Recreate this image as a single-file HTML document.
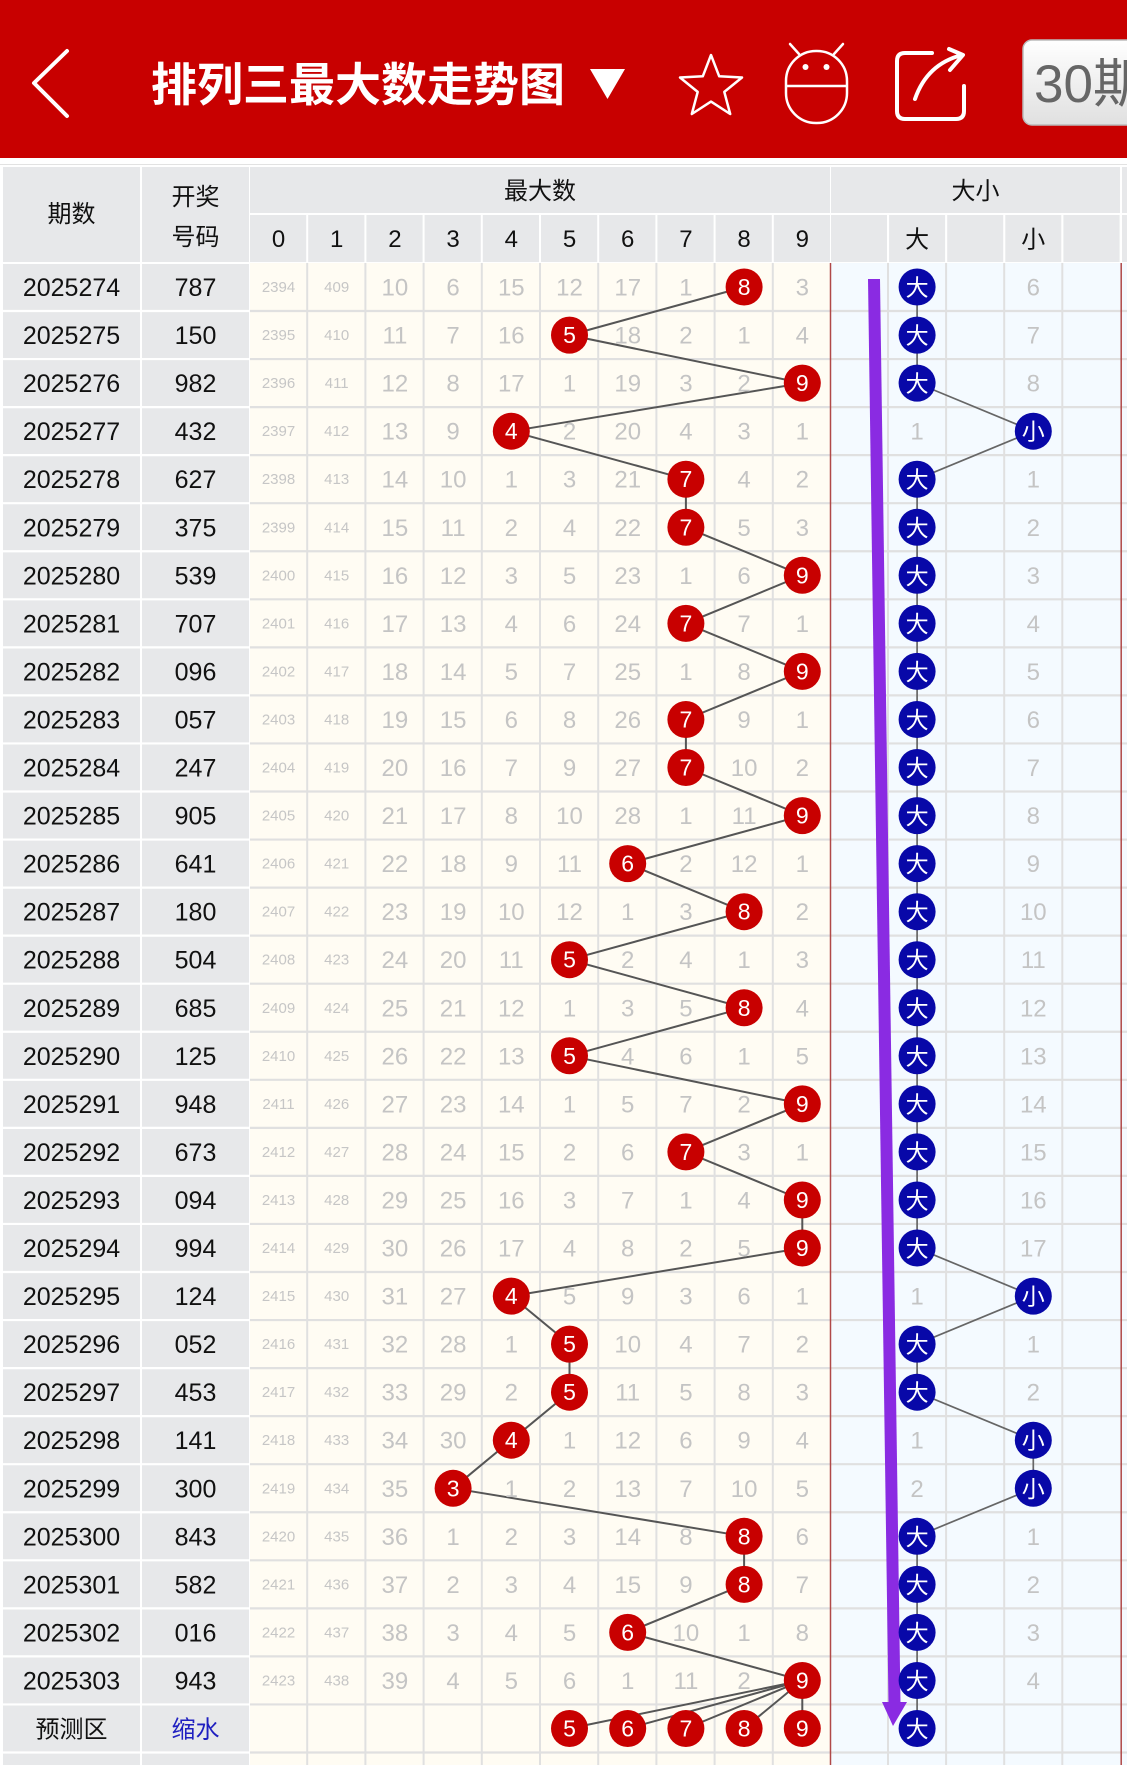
<!DOCTYPE html>
<html><head><meta charset="utf-8"><style>
html,body{margin:0;padding:0;background:#fff;}
svg{display:block;}
svg text{font-family:"Liberation Sans","Noto Sans CJK SC",sans-serif;text-anchor:middle;}
.p{font-size:25px;fill:#111}
.h{font-size:24px;fill:#111}
.s{font-size:15px;fill:#c6c6c6}
.g{font-size:24px;fill:#c4c4c4}
.w{font-size:23px;fill:#fff}
.wc{font-size:23px;fill:#fff}
.rc{fill:#c80000}
.bc{fill:#0808a8}
</style></head><body>
<svg width="1127" height="1765" viewBox="0 0 1127 1765" xmlns="http://www.w3.org/2000/svg">
<defs><linearGradient id="btn" x1="0" y1="0" x2="0" y2="1"><stop offset="0" stop-color="#ffffff"/><stop offset="1" stop-color="#e0e0e0"/></linearGradient></defs>
<rect x="0" y="0" width="1127" height="1765" fill="#fff"/>
<!-- title bar -->
<rect x="0" y="0" width="1127" height="158" fill="#c80000"/>
<polyline points="67,51 34,83 67,116" fill="none" stroke="#fff" stroke-width="4" stroke-linejoin="round" stroke-linecap="round"/>
<text x="151" y="101" style="font-family:'Noto Sans CJK SC','WenQuanYi Zen Hei',sans-serif;font-size:46px;font-weight:bold;fill:#fff;text-anchor:start">排列三最大数走势图</text>
<polygon points="590,69 625,69 607.5,99" fill="#fff"/>
<polygon points="711,55 719.2,76.3 742,77.5 724.3,91.9 730.2,114 711,101.6 691.8,114 697.7,91.9 680,77.5 702.8,76.3" fill="none" stroke="#fff" stroke-width="2.5" stroke-linejoin="round"/>
<rect x="786" y="51" width="61" height="72" rx="30" fill="none" stroke="#fff" stroke-width="2.5"/>
<line x1="786" y1="86" x2="847" y2="86" stroke="#fff" stroke-width="2.5"/>
<circle cx="805.5" cy="67" r="3" fill="#fff"/><circle cx="826.5" cy="67" r="3" fill="#fff"/>
<line x1="790" y1="44" x2="799" y2="54" stroke="#fff" stroke-width="2.5" stroke-linecap="round"/>
<line x1="843" y1="44" x2="834" y2="54" stroke="#fff" stroke-width="2.5" stroke-linecap="round"/>
<path d="M932 53 H905 Q897 53 897 61 V111 Q897 119 905 119 H956 Q964 119 964 111 V86" fill="none" stroke="#fff" stroke-width="4" stroke-linecap="round"/>
<path d="M915 99 Q927 64 962 55" fill="none" stroke="#fff" stroke-width="4" stroke-linecap="round"/>
<path d="M949 49 L963 55 L950 70" fill="none" stroke="#fff" stroke-width="4" stroke-linecap="round" stroke-linejoin="round"/>
<rect x="1023" y="40" width="140" height="85" rx="9" fill="url(#btn)" stroke="#bbb" stroke-width="1.5"/>
<text x="1034" y="102" style="font-size:53px;fill:#666;text-anchor:start">30期</text>

<!-- table header -->
<rect x="0" y="164" width="1127" height="1" fill="#e2e2e2"/>
<g fill="#e7e8ea">
<rect x="3" y="167" width="137" height="95"/>
<rect x="142" y="167" width="107" height="95"/>
<rect x="250" y="167" width="580" height="46"/>
<rect x="831" y="167" width="289" height="46"/>
<rect x="1122" y="167" width="10" height="46"/>
<rect x="250" y="215" width="56.2" height="47"/>
<rect x="308.2" y="215" width="56.2" height="47"/>
<rect x="366.4" y="215" width="56.2" height="47"/>
<rect x="424.6" y="215" width="56.2" height="47"/>
<rect x="482.8" y="215" width="56.2" height="47"/>
<rect x="541" y="215" width="56.2" height="47"/>
<rect x="599.2" y="215" width="56.2" height="47"/>
<rect x="657.4" y="215" width="56.2" height="47"/>
<rect x="715.6" y="215" width="56.2" height="47"/>
<rect x="773.8" y="215" width="56.2" height="47"/>
<rect x="831" y="215" width="56" height="47"/>
<rect x="889.1" y="215" width="56" height="47"/>
<rect x="947.2" y="215" width="56" height="47"/>
<rect x="1005.3" y="215" width="56" height="47"/>
<rect x="1063.4" y="215" width="56.2" height="47"/>
<rect x="1122" y="215" width="10" height="47"/>
</g>
<text x="71.5" y="222" class="h">期数</text>
<text x="195.5" y="205" class="h">开奖</text>
<text x="195.5" y="245" class="h">号码</text>
<text x="540" y="199" class="h">最大数</text>
<text x="975.5" y="199" class="h">大小</text>
<g class="h">
<text x="278.5" y="247" class="h">0</text>
<text x="336.7" y="247" class="h">1</text>
<text x="394.9" y="247" class="h">2</text>
<text x="453.1" y="247" class="h">3</text>
<text x="511.3" y="247" class="h">4</text>
<text x="569.5" y="247" class="h">5</text>
<text x="627.7" y="247" class="h">6</text>
<text x="685.9" y="247" class="h">7</text>
<text x="744.1" y="247" class="h">8</text>
<text x="802.3" y="247" class="h">9</text>
<text x="917.1" y="247.5" class="h">大</text>
<text x="1033.3" y="247.5" class="h">小</text>
</g>

<!-- data backgrounds -->
<rect x="3" y="264" width="137" height="1501" fill="#e7e8ea"/>
<rect x="142" y="264" width="107" height="1501" fill="#e7e8ea"/>
<rect x="250" y="263" width="580" height="1502" fill="#fffcf3"/>
<rect x="831" y="263" width="296" height="1502" fill="#f4faff"/>
<!-- horizontal gaps -->
<path d="M0 311H250 M0 359.05H250 M0 407.1H250 M0 455.15H250 M0 503.2H250 M0 551.25H250 M0 599.3H250 M0 647.35H250 M0 695.4H250 M0 743.45H250 M0 791.5H250 M0 839.55H250 M0 887.6H250 M0 935.65H250 M0 983.7H250 M0 1031.75H250 M0 1079.8H250 M0 1127.85H250 M0 1175.9H250 M0 1223.95H250 M0 1272H250 M0 1320.05H250 M0 1368.1H250 M0 1416.15H250 M0 1464.2H250 M0 1512.25H250 M0 1560.3H250 M0 1608.35H250 M0 1656.4H250 M0 1704.45H250 M0 1752.5H250" stroke="#fff" stroke-width="2.2"/>
<path d="M250 311H1127 M250 359.05H1127 M250 407.1H1127 M250 455.15H1127 M250 503.2H1127 M250 551.25H1127 M250 599.3H1127 M250 647.35H1127 M250 695.4H1127 M250 743.45H1127 M250 791.5H1127 M250 839.55H1127 M250 887.6H1127 M250 935.65H1127 M250 983.7H1127 M250 1031.75H1127 M250 1079.8H1127 M250 1127.85H1127 M250 1175.9H1127 M250 1223.95H1127 M250 1272H1127 M250 1320.05H1127 M250 1368.1H1127 M250 1416.15H1127 M250 1464.2H1127 M250 1512.25H1127 M250 1560.3H1127 M250 1608.35H1127 M250 1656.4H1127 M250 1704.45H1127 M250 1752.5H1127" stroke="#e0e0e0" stroke-width="2.2"/>
<!-- vertical gaps -->
<path d="M307.2 263V1765 M365.4 263V1765 M423.6 263V1765 M481.8 263V1765 M540 263V1765 M598.2 263V1765 M656.4 263V1765 M714.6 263V1765 M772.8 263V1765 M888 263V1765 M946.1 263V1765 M1004.2 263V1765 M1062.3 263V1765" stroke="#e0e0e0" stroke-width="2"/>
<path d="M830.5 263V1765 M1121.2 263V1765" stroke="#b04848" stroke-width="1.5"/>

<!-- connecting lines -->
<polyline points="744.1,287 569.5,335.1 802.3,383.1 511.3,431.2 685.9,479.2 685.9,527.3 802.3,575.3 685.9,623.4 802.3,671.4 685.9,719.5 685.9,767.5 802.3,815.6 627.7,863.6 744.1,911.7 569.5,959.7 744.1,1007.8 569.5,1055.8 802.3,1103.9 685.9,1151.9 802.3,1200 802.3,1248 511.3,1296.1 569.5,1344.1 569.5,1392.2 511.3,1440.2 453.1,1488.3 744.1,1536.3 744.1,1584.4 627.7,1632.4 802.3,1680.5" fill="none" stroke="#555" stroke-width="2"/>
<path d="M802.3 1680.5L569.5 1728.5M802.3 1680.5L627.7 1728.5M802.3 1680.5L685.9 1728.5M802.3 1680.5L744.1 1728.5M802.3 1680.5V1728.5" fill="none" stroke="#555" stroke-width="2"/>
<polyline points="917.1,287 917.1,383.1 1033.3,431.2 917.1,479.2 917.1,1248 1033.3,1296.1 917.1,1344.1 917.1,1392.2 1033.3,1440.2 1033.3,1488.3 917.1,1536.3 917.1,1728.5" fill="none" stroke="#666" stroke-width="1.7"/>

<!-- purple arrow -->
<polygon points="868,279 880,279 900.5,1704 888.5,1704" fill="#8a2be2"/>
<polygon points="882,1702 907,1702 893,1726" fill="#8a2be2"/>

<!-- rows -->
<g transform="translate(0,287)">
<text x="71.5" y="9" class="p">2025274</text><text x="195.5" y="9" class="p">787</text>
<text x="278.5" y="5" class="s">2394</text><text x="336.7" y="5" class="s">409</text>
<text x="394.9" y="8.5" class="g">10</text><text x="453.1" y="8.5" class="g">6</text><text x="511.3" y="8.5" class="g">15</text><text x="569.5" y="8.5" class="g">12</text><text x="627.7" y="8.5" class="g">17</text><text x="685.9" y="8.5" class="g">1</text>
<circle cx="744.1" r="18.5" class="rc"/><text x="744.1" y="8" class="w">8</text>
<text x="802.3" y="8.5" class="g">3</text>
<circle cx="917.1" r="18.5" class="bc"/><text x="917.1" y="8.5" class="wc">大</text><text x="1033.3" y="8.5" class="g">6</text>
</g>
<g transform="translate(0,335.1)">
<text x="71.5" y="9" class="p">2025275</text><text x="195.5" y="9" class="p">150</text>
<text x="278.5" y="5" class="s">2395</text><text x="336.7" y="5" class="s">410</text>
<text x="394.9" y="8.5" class="g">11</text><text x="453.1" y="8.5" class="g">7</text><text x="511.3" y="8.5" class="g">16</text>
<circle cx="569.5" r="18.5" class="rc"/><text x="569.5" y="8" class="w">5</text>
<text x="627.7" y="8.5" class="g">18</text><text x="685.9" y="8.5" class="g">2</text><text x="744.1" y="8.5" class="g">1</text><text x="802.3" y="8.5" class="g">4</text>
<circle cx="917.1" r="18.5" class="bc"/><text x="917.1" y="8.5" class="wc">大</text><text x="1033.3" y="8.5" class="g">7</text>
</g>
<g transform="translate(0,383.1)">
<text x="71.5" y="9" class="p">2025276</text><text x="195.5" y="9" class="p">982</text>
<text x="278.5" y="5" class="s">2396</text><text x="336.7" y="5" class="s">411</text>
<text x="394.9" y="8.5" class="g">12</text><text x="453.1" y="8.5" class="g">8</text><text x="511.3" y="8.5" class="g">17</text><text x="569.5" y="8.5" class="g">1</text><text x="627.7" y="8.5" class="g">19</text><text x="685.9" y="8.5" class="g">3</text><text x="744.1" y="8.5" class="g">2</text>
<circle cx="802.3" r="18.5" class="rc"/><text x="802.3" y="8" class="w">9</text>
<circle cx="917.1" r="18.5" class="bc"/><text x="917.1" y="8.5" class="wc">大</text><text x="1033.3" y="8.5" class="g">8</text>
</g>
<g transform="translate(0,431.2)">
<text x="71.5" y="9" class="p">2025277</text><text x="195.5" y="9" class="p">432</text>
<text x="278.5" y="5" class="s">2397</text><text x="336.7" y="5" class="s">412</text>
<text x="394.9" y="8.5" class="g">13</text><text x="453.1" y="8.5" class="g">9</text>
<circle cx="511.3" r="18.5" class="rc"/><text x="511.3" y="8" class="w">4</text>
<text x="569.5" y="8.5" class="g">2</text><text x="627.7" y="8.5" class="g">20</text><text x="685.9" y="8.5" class="g">4</text><text x="744.1" y="8.5" class="g">3</text><text x="802.3" y="8.5" class="g">1</text>
<text x="917.1" y="8.5" class="g">1</text><circle cx="1033.3" r="18.5" class="bc"/><text x="1033.3" y="8.5" class="wc">小</text>
</g>
<g transform="translate(0,479.2)">
<text x="71.5" y="9" class="p">2025278</text><text x="195.5" y="9" class="p">627</text>
<text x="278.5" y="5" class="s">2398</text><text x="336.7" y="5" class="s">413</text>
<text x="394.9" y="8.5" class="g">14</text><text x="453.1" y="8.5" class="g">10</text><text x="511.3" y="8.5" class="g">1</text><text x="569.5" y="8.5" class="g">3</text><text x="627.7" y="8.5" class="g">21</text>
<circle cx="685.9" r="18.5" class="rc"/><text x="685.9" y="8" class="w">7</text>
<text x="744.1" y="8.5" class="g">4</text><text x="802.3" y="8.5" class="g">2</text>
<circle cx="917.1" r="18.5" class="bc"/><text x="917.1" y="8.5" class="wc">大</text><text x="1033.3" y="8.5" class="g">1</text>
</g>
<g transform="translate(0,527.3)">
<text x="71.5" y="9" class="p">2025279</text><text x="195.5" y="9" class="p">375</text>
<text x="278.5" y="5" class="s">2399</text><text x="336.7" y="5" class="s">414</text>
<text x="394.9" y="8.5" class="g">15</text><text x="453.1" y="8.5" class="g">11</text><text x="511.3" y="8.5" class="g">2</text><text x="569.5" y="8.5" class="g">4</text><text x="627.7" y="8.5" class="g">22</text>
<circle cx="685.9" r="18.5" class="rc"/><text x="685.9" y="8" class="w">7</text>
<text x="744.1" y="8.5" class="g">5</text><text x="802.3" y="8.5" class="g">3</text>
<circle cx="917.1" r="18.5" class="bc"/><text x="917.1" y="8.5" class="wc">大</text><text x="1033.3" y="8.5" class="g">2</text>
</g>
<g transform="translate(0,575.3)">
<text x="71.5" y="9" class="p">2025280</text><text x="195.5" y="9" class="p">539</text>
<text x="278.5" y="5" class="s">2400</text><text x="336.7" y="5" class="s">415</text>
<text x="394.9" y="8.5" class="g">16</text><text x="453.1" y="8.5" class="g">12</text><text x="511.3" y="8.5" class="g">3</text><text x="569.5" y="8.5" class="g">5</text><text x="627.7" y="8.5" class="g">23</text><text x="685.9" y="8.5" class="g">1</text><text x="744.1" y="8.5" class="g">6</text>
<circle cx="802.3" r="18.5" class="rc"/><text x="802.3" y="8" class="w">9</text>
<circle cx="917.1" r="18.5" class="bc"/><text x="917.1" y="8.5" class="wc">大</text><text x="1033.3" y="8.5" class="g">3</text>
</g>
<g transform="translate(0,623.4)">
<text x="71.5" y="9" class="p">2025281</text><text x="195.5" y="9" class="p">707</text>
<text x="278.5" y="5" class="s">2401</text><text x="336.7" y="5" class="s">416</text>
<text x="394.9" y="8.5" class="g">17</text><text x="453.1" y="8.5" class="g">13</text><text x="511.3" y="8.5" class="g">4</text><text x="569.5" y="8.5" class="g">6</text><text x="627.7" y="8.5" class="g">24</text>
<circle cx="685.9" r="18.5" class="rc"/><text x="685.9" y="8" class="w">7</text>
<text x="744.1" y="8.5" class="g">7</text><text x="802.3" y="8.5" class="g">1</text>
<circle cx="917.1" r="18.5" class="bc"/><text x="917.1" y="8.5" class="wc">大</text><text x="1033.3" y="8.5" class="g">4</text>
</g>
<g transform="translate(0,671.4)">
<text x="71.5" y="9" class="p">2025282</text><text x="195.5" y="9" class="p">096</text>
<text x="278.5" y="5" class="s">2402</text><text x="336.7" y="5" class="s">417</text>
<text x="394.9" y="8.5" class="g">18</text><text x="453.1" y="8.5" class="g">14</text><text x="511.3" y="8.5" class="g">5</text><text x="569.5" y="8.5" class="g">7</text><text x="627.7" y="8.5" class="g">25</text><text x="685.9" y="8.5" class="g">1</text><text x="744.1" y="8.5" class="g">8</text>
<circle cx="802.3" r="18.5" class="rc"/><text x="802.3" y="8" class="w">9</text>
<circle cx="917.1" r="18.5" class="bc"/><text x="917.1" y="8.5" class="wc">大</text><text x="1033.3" y="8.5" class="g">5</text>
</g>
<g transform="translate(0,719.5)">
<text x="71.5" y="9" class="p">2025283</text><text x="195.5" y="9" class="p">057</text>
<text x="278.5" y="5" class="s">2403</text><text x="336.7" y="5" class="s">418</text>
<text x="394.9" y="8.5" class="g">19</text><text x="453.1" y="8.5" class="g">15</text><text x="511.3" y="8.5" class="g">6</text><text x="569.5" y="8.5" class="g">8</text><text x="627.7" y="8.5" class="g">26</text>
<circle cx="685.9" r="18.5" class="rc"/><text x="685.9" y="8" class="w">7</text>
<text x="744.1" y="8.5" class="g">9</text><text x="802.3" y="8.5" class="g">1</text>
<circle cx="917.1" r="18.5" class="bc"/><text x="917.1" y="8.5" class="wc">大</text><text x="1033.3" y="8.5" class="g">6</text>
</g>
<g transform="translate(0,767.5)">
<text x="71.5" y="9" class="p">2025284</text><text x="195.5" y="9" class="p">247</text>
<text x="278.5" y="5" class="s">2404</text><text x="336.7" y="5" class="s">419</text>
<text x="394.9" y="8.5" class="g">20</text><text x="453.1" y="8.5" class="g">16</text><text x="511.3" y="8.5" class="g">7</text><text x="569.5" y="8.5" class="g">9</text><text x="627.7" y="8.5" class="g">27</text>
<circle cx="685.9" r="18.5" class="rc"/><text x="685.9" y="8" class="w">7</text>
<text x="744.1" y="8.5" class="g">10</text><text x="802.3" y="8.5" class="g">2</text>
<circle cx="917.1" r="18.5" class="bc"/><text x="917.1" y="8.5" class="wc">大</text><text x="1033.3" y="8.5" class="g">7</text>
</g>
<g transform="translate(0,815.6)">
<text x="71.5" y="9" class="p">2025285</text><text x="195.5" y="9" class="p">905</text>
<text x="278.5" y="5" class="s">2405</text><text x="336.7" y="5" class="s">420</text>
<text x="394.9" y="8.5" class="g">21</text><text x="453.1" y="8.5" class="g">17</text><text x="511.3" y="8.5" class="g">8</text><text x="569.5" y="8.5" class="g">10</text><text x="627.7" y="8.5" class="g">28</text><text x="685.9" y="8.5" class="g">1</text><text x="744.1" y="8.5" class="g">11</text>
<circle cx="802.3" r="18.5" class="rc"/><text x="802.3" y="8" class="w">9</text>
<circle cx="917.1" r="18.5" class="bc"/><text x="917.1" y="8.5" class="wc">大</text><text x="1033.3" y="8.5" class="g">8</text>
</g>
<g transform="translate(0,863.6)">
<text x="71.5" y="9" class="p">2025286</text><text x="195.5" y="9" class="p">641</text>
<text x="278.5" y="5" class="s">2406</text><text x="336.7" y="5" class="s">421</text>
<text x="394.9" y="8.5" class="g">22</text><text x="453.1" y="8.5" class="g">18</text><text x="511.3" y="8.5" class="g">9</text><text x="569.5" y="8.5" class="g">11</text>
<circle cx="627.7" r="18.5" class="rc"/><text x="627.7" y="8" class="w">6</text>
<text x="685.9" y="8.5" class="g">2</text><text x="744.1" y="8.5" class="g">12</text><text x="802.3" y="8.5" class="g">1</text>
<circle cx="917.1" r="18.5" class="bc"/><text x="917.1" y="8.5" class="wc">大</text><text x="1033.3" y="8.5" class="g">9</text>
</g>
<g transform="translate(0,911.7)">
<text x="71.5" y="9" class="p">2025287</text><text x="195.5" y="9" class="p">180</text>
<text x="278.5" y="5" class="s">2407</text><text x="336.7" y="5" class="s">422</text>
<text x="394.9" y="8.5" class="g">23</text><text x="453.1" y="8.5" class="g">19</text><text x="511.3" y="8.5" class="g">10</text><text x="569.5" y="8.5" class="g">12</text><text x="627.7" y="8.5" class="g">1</text><text x="685.9" y="8.5" class="g">3</text>
<circle cx="744.1" r="18.5" class="rc"/><text x="744.1" y="8" class="w">8</text>
<text x="802.3" y="8.5" class="g">2</text>
<circle cx="917.1" r="18.5" class="bc"/><text x="917.1" y="8.5" class="wc">大</text><text x="1033.3" y="8.5" class="g">10</text>
</g>
<g transform="translate(0,959.7)">
<text x="71.5" y="9" class="p">2025288</text><text x="195.5" y="9" class="p">504</text>
<text x="278.5" y="5" class="s">2408</text><text x="336.7" y="5" class="s">423</text>
<text x="394.9" y="8.5" class="g">24</text><text x="453.1" y="8.5" class="g">20</text><text x="511.3" y="8.5" class="g">11</text>
<circle cx="569.5" r="18.5" class="rc"/><text x="569.5" y="8" class="w">5</text>
<text x="627.7" y="8.5" class="g">2</text><text x="685.9" y="8.5" class="g">4</text><text x="744.1" y="8.5" class="g">1</text><text x="802.3" y="8.5" class="g">3</text>
<circle cx="917.1" r="18.5" class="bc"/><text x="917.1" y="8.5" class="wc">大</text><text x="1033.3" y="8.5" class="g">11</text>
</g>
<g transform="translate(0,1007.8)">
<text x="71.5" y="9" class="p">2025289</text><text x="195.5" y="9" class="p">685</text>
<text x="278.5" y="5" class="s">2409</text><text x="336.7" y="5" class="s">424</text>
<text x="394.9" y="8.5" class="g">25</text><text x="453.1" y="8.5" class="g">21</text><text x="511.3" y="8.5" class="g">12</text><text x="569.5" y="8.5" class="g">1</text><text x="627.7" y="8.5" class="g">3</text><text x="685.9" y="8.5" class="g">5</text>
<circle cx="744.1" r="18.5" class="rc"/><text x="744.1" y="8" class="w">8</text>
<text x="802.3" y="8.5" class="g">4</text>
<circle cx="917.1" r="18.5" class="bc"/><text x="917.1" y="8.5" class="wc">大</text><text x="1033.3" y="8.5" class="g">12</text>
</g>
<g transform="translate(0,1055.8)">
<text x="71.5" y="9" class="p">2025290</text><text x="195.5" y="9" class="p">125</text>
<text x="278.5" y="5" class="s">2410</text><text x="336.7" y="5" class="s">425</text>
<text x="394.9" y="8.5" class="g">26</text><text x="453.1" y="8.5" class="g">22</text><text x="511.3" y="8.5" class="g">13</text>
<circle cx="569.5" r="18.5" class="rc"/><text x="569.5" y="8" class="w">5</text>
<text x="627.7" y="8.5" class="g">4</text><text x="685.9" y="8.5" class="g">6</text><text x="744.1" y="8.5" class="g">1</text><text x="802.3" y="8.5" class="g">5</text>
<circle cx="917.1" r="18.5" class="bc"/><text x="917.1" y="8.5" class="wc">大</text><text x="1033.3" y="8.5" class="g">13</text>
</g>
<g transform="translate(0,1103.9)">
<text x="71.5" y="9" class="p">2025291</text><text x="195.5" y="9" class="p">948</text>
<text x="278.5" y="5" class="s">2411</text><text x="336.7" y="5" class="s">426</text>
<text x="394.9" y="8.5" class="g">27</text><text x="453.1" y="8.5" class="g">23</text><text x="511.3" y="8.5" class="g">14</text><text x="569.5" y="8.5" class="g">1</text><text x="627.7" y="8.5" class="g">5</text><text x="685.9" y="8.5" class="g">7</text><text x="744.1" y="8.5" class="g">2</text>
<circle cx="802.3" r="18.5" class="rc"/><text x="802.3" y="8" class="w">9</text>
<circle cx="917.1" r="18.5" class="bc"/><text x="917.1" y="8.5" class="wc">大</text><text x="1033.3" y="8.5" class="g">14</text>
</g>
<g transform="translate(0,1151.9)">
<text x="71.5" y="9" class="p">2025292</text><text x="195.5" y="9" class="p">673</text>
<text x="278.5" y="5" class="s">2412</text><text x="336.7" y="5" class="s">427</text>
<text x="394.9" y="8.5" class="g">28</text><text x="453.1" y="8.5" class="g">24</text><text x="511.3" y="8.5" class="g">15</text><text x="569.5" y="8.5" class="g">2</text><text x="627.7" y="8.5" class="g">6</text>
<circle cx="685.9" r="18.5" class="rc"/><text x="685.9" y="8" class="w">7</text>
<text x="744.1" y="8.5" class="g">3</text><text x="802.3" y="8.5" class="g">1</text>
<circle cx="917.1" r="18.5" class="bc"/><text x="917.1" y="8.5" class="wc">大</text><text x="1033.3" y="8.5" class="g">15</text>
</g>
<g transform="translate(0,1200)">
<text x="71.5" y="9" class="p">2025293</text><text x="195.5" y="9" class="p">094</text>
<text x="278.5" y="5" class="s">2413</text><text x="336.7" y="5" class="s">428</text>
<text x="394.9" y="8.5" class="g">29</text><text x="453.1" y="8.5" class="g">25</text><text x="511.3" y="8.5" class="g">16</text><text x="569.5" y="8.5" class="g">3</text><text x="627.7" y="8.5" class="g">7</text><text x="685.9" y="8.5" class="g">1</text><text x="744.1" y="8.5" class="g">4</text>
<circle cx="802.3" r="18.5" class="rc"/><text x="802.3" y="8" class="w">9</text>
<circle cx="917.1" r="18.5" class="bc"/><text x="917.1" y="8.5" class="wc">大</text><text x="1033.3" y="8.5" class="g">16</text>
</g>
<g transform="translate(0,1248)">
<text x="71.5" y="9" class="p">2025294</text><text x="195.5" y="9" class="p">994</text>
<text x="278.5" y="5" class="s">2414</text><text x="336.7" y="5" class="s">429</text>
<text x="394.9" y="8.5" class="g">30</text><text x="453.1" y="8.5" class="g">26</text><text x="511.3" y="8.5" class="g">17</text><text x="569.5" y="8.5" class="g">4</text><text x="627.7" y="8.5" class="g">8</text><text x="685.9" y="8.5" class="g">2</text><text x="744.1" y="8.5" class="g">5</text>
<circle cx="802.3" r="18.5" class="rc"/><text x="802.3" y="8" class="w">9</text>
<circle cx="917.1" r="18.5" class="bc"/><text x="917.1" y="8.5" class="wc">大</text><text x="1033.3" y="8.5" class="g">17</text>
</g>
<g transform="translate(0,1296.1)">
<text x="71.5" y="9" class="p">2025295</text><text x="195.5" y="9" class="p">124</text>
<text x="278.5" y="5" class="s">2415</text><text x="336.7" y="5" class="s">430</text>
<text x="394.9" y="8.5" class="g">31</text><text x="453.1" y="8.5" class="g">27</text>
<circle cx="511.3" r="18.5" class="rc"/><text x="511.3" y="8" class="w">4</text>
<text x="569.5" y="8.5" class="g">5</text><text x="627.7" y="8.5" class="g">9</text><text x="685.9" y="8.5" class="g">3</text><text x="744.1" y="8.5" class="g">6</text><text x="802.3" y="8.5" class="g">1</text>
<text x="917.1" y="8.5" class="g">1</text><circle cx="1033.3" r="18.5" class="bc"/><text x="1033.3" y="8.5" class="wc">小</text>
</g>
<g transform="translate(0,1344.1)">
<text x="71.5" y="9" class="p">2025296</text><text x="195.5" y="9" class="p">052</text>
<text x="278.5" y="5" class="s">2416</text><text x="336.7" y="5" class="s">431</text>
<text x="394.9" y="8.5" class="g">32</text><text x="453.1" y="8.5" class="g">28</text><text x="511.3" y="8.5" class="g">1</text>
<circle cx="569.5" r="18.5" class="rc"/><text x="569.5" y="8" class="w">5</text>
<text x="627.7" y="8.5" class="g">10</text><text x="685.9" y="8.5" class="g">4</text><text x="744.1" y="8.5" class="g">7</text><text x="802.3" y="8.5" class="g">2</text>
<circle cx="917.1" r="18.5" class="bc"/><text x="917.1" y="8.5" class="wc">大</text><text x="1033.3" y="8.5" class="g">1</text>
</g>
<g transform="translate(0,1392.2)">
<text x="71.5" y="9" class="p">2025297</text><text x="195.5" y="9" class="p">453</text>
<text x="278.5" y="5" class="s">2417</text><text x="336.7" y="5" class="s">432</text>
<text x="394.9" y="8.5" class="g">33</text><text x="453.1" y="8.5" class="g">29</text><text x="511.3" y="8.5" class="g">2</text>
<circle cx="569.5" r="18.5" class="rc"/><text x="569.5" y="8" class="w">5</text>
<text x="627.7" y="8.5" class="g">11</text><text x="685.9" y="8.5" class="g">5</text><text x="744.1" y="8.5" class="g">8</text><text x="802.3" y="8.5" class="g">3</text>
<circle cx="917.1" r="18.5" class="bc"/><text x="917.1" y="8.5" class="wc">大</text><text x="1033.3" y="8.5" class="g">2</text>
</g>
<g transform="translate(0,1440.2)">
<text x="71.5" y="9" class="p">2025298</text><text x="195.5" y="9" class="p">141</text>
<text x="278.5" y="5" class="s">2418</text><text x="336.7" y="5" class="s">433</text>
<text x="394.9" y="8.5" class="g">34</text><text x="453.1" y="8.5" class="g">30</text>
<circle cx="511.3" r="18.5" class="rc"/><text x="511.3" y="8" class="w">4</text>
<text x="569.5" y="8.5" class="g">1</text><text x="627.7" y="8.5" class="g">12</text><text x="685.9" y="8.5" class="g">6</text><text x="744.1" y="8.5" class="g">9</text><text x="802.3" y="8.5" class="g">4</text>
<text x="917.1" y="8.5" class="g">1</text><circle cx="1033.3" r="18.5" class="bc"/><text x="1033.3" y="8.5" class="wc">小</text>
</g>
<g transform="translate(0,1488.3)">
<text x="71.5" y="9" class="p">2025299</text><text x="195.5" y="9" class="p">300</text>
<text x="278.5" y="5" class="s">2419</text><text x="336.7" y="5" class="s">434</text>
<text x="394.9" y="8.5" class="g">35</text>
<circle cx="453.1" r="18.5" class="rc"/><text x="453.1" y="8" class="w">3</text>
<text x="511.3" y="8.5" class="g">1</text><text x="569.5" y="8.5" class="g">2</text><text x="627.7" y="8.5" class="g">13</text><text x="685.9" y="8.5" class="g">7</text><text x="744.1" y="8.5" class="g">10</text><text x="802.3" y="8.5" class="g">5</text>
<text x="917.1" y="8.5" class="g">2</text><circle cx="1033.3" r="18.5" class="bc"/><text x="1033.3" y="8.5" class="wc">小</text>
</g>
<g transform="translate(0,1536.3)">
<text x="71.5" y="9" class="p">2025300</text><text x="195.5" y="9" class="p">843</text>
<text x="278.5" y="5" class="s">2420</text><text x="336.7" y="5" class="s">435</text>
<text x="394.9" y="8.5" class="g">36</text><text x="453.1" y="8.5" class="g">1</text><text x="511.3" y="8.5" class="g">2</text><text x="569.5" y="8.5" class="g">3</text><text x="627.7" y="8.5" class="g">14</text><text x="685.9" y="8.5" class="g">8</text>
<circle cx="744.1" r="18.5" class="rc"/><text x="744.1" y="8" class="w">8</text>
<text x="802.3" y="8.5" class="g">6</text>
<circle cx="917.1" r="18.5" class="bc"/><text x="917.1" y="8.5" class="wc">大</text><text x="1033.3" y="8.5" class="g">1</text>
</g>
<g transform="translate(0,1584.4)">
<text x="71.5" y="9" class="p">2025301</text><text x="195.5" y="9" class="p">582</text>
<text x="278.5" y="5" class="s">2421</text><text x="336.7" y="5" class="s">436</text>
<text x="394.9" y="8.5" class="g">37</text><text x="453.1" y="8.5" class="g">2</text><text x="511.3" y="8.5" class="g">3</text><text x="569.5" y="8.5" class="g">4</text><text x="627.7" y="8.5" class="g">15</text><text x="685.9" y="8.5" class="g">9</text>
<circle cx="744.1" r="18.5" class="rc"/><text x="744.1" y="8" class="w">8</text>
<text x="802.3" y="8.5" class="g">7</text>
<circle cx="917.1" r="18.5" class="bc"/><text x="917.1" y="8.5" class="wc">大</text><text x="1033.3" y="8.5" class="g">2</text>
</g>
<g transform="translate(0,1632.4)">
<text x="71.5" y="9" class="p">2025302</text><text x="195.5" y="9" class="p">016</text>
<text x="278.5" y="5" class="s">2422</text><text x="336.7" y="5" class="s">437</text>
<text x="394.9" y="8.5" class="g">38</text><text x="453.1" y="8.5" class="g">3</text><text x="511.3" y="8.5" class="g">4</text><text x="569.5" y="8.5" class="g">5</text>
<circle cx="627.7" r="18.5" class="rc"/><text x="627.7" y="8" class="w">6</text>
<text x="685.9" y="8.5" class="g">10</text><text x="744.1" y="8.5" class="g">1</text><text x="802.3" y="8.5" class="g">8</text>
<circle cx="917.1" r="18.5" class="bc"/><text x="917.1" y="8.5" class="wc">大</text><text x="1033.3" y="8.5" class="g">3</text>
</g>
<g transform="translate(0,1680.5)">
<text x="71.5" y="9" class="p">2025303</text><text x="195.5" y="9" class="p">943</text>
<text x="278.5" y="5" class="s">2423</text><text x="336.7" y="5" class="s">438</text>
<text x="394.9" y="8.5" class="g">39</text><text x="453.1" y="8.5" class="g">4</text><text x="511.3" y="8.5" class="g">5</text><text x="569.5" y="8.5" class="g">6</text><text x="627.7" y="8.5" class="g">1</text><text x="685.9" y="8.5" class="g">11</text><text x="744.1" y="8.5" class="g">2</text>
<circle cx="802.3" r="18.5" class="rc"/><text x="802.3" y="8" class="w">9</text>
<circle cx="917.1" r="18.5" class="bc"/><text x="917.1" y="8.5" class="wc">大</text><text x="1033.3" y="8.5" class="g">4</text>
</g>
<g transform="translate(0,1728.5)">
<text x="71.5" y="9" class="h">预测区</text><text x="195.5" y="9" class="h" style="fill:#1f1fc0">缩水</text>
<circle cx="569.5" r="18.5" class="rc"/><text x="569.5" y="8" class="w">5</text>
<circle cx="627.7" r="18.5" class="rc"/><text x="627.7" y="8" class="w">6</text>
<circle cx="685.9" r="18.5" class="rc"/><text x="685.9" y="8" class="w">7</text>
<circle cx="744.1" r="18.5" class="rc"/><text x="744.1" y="8" class="w">8</text>
<circle cx="802.3" r="18.5" class="rc"/><text x="802.3" y="8" class="w">9</text>
<circle cx="917.1" r="18.5" class="bc"/><text x="917.1" y="8.5" class="wc">大</text>
</g>
</svg>
</body></html>
